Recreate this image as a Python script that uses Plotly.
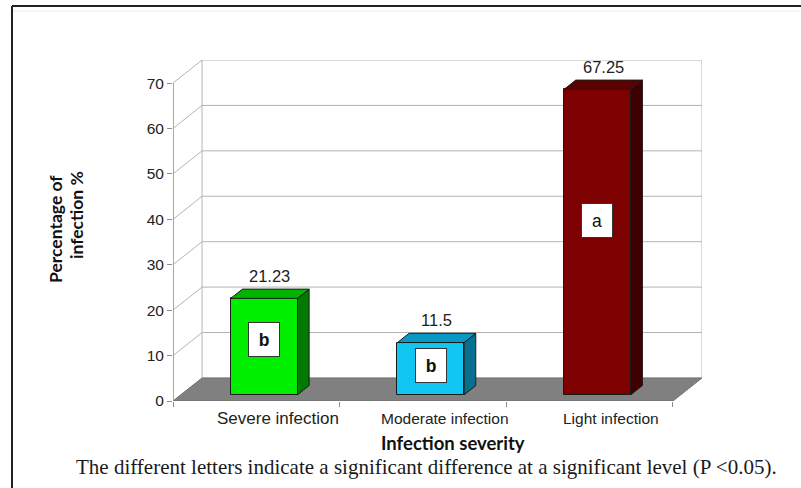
import plotly.graph_objects as go

# ---- data ----
categories = ["Severe infection", "Moderate infection", "Light infection"]
percent_infection = [21.23, 11.5, 67.25]
group_letters = ["b", "b", "a"]
y_ticks = [0, 10, 20, 30, 40, 50, 60, 70]

# ---- styling ----
front_colors = ["#00ee00", "#12c6f2", "#7f0000"]
side_colors = ["#007a00", "#06708e", "#400000"]
top_colors = ["#00b400", "#0a98c4", "#5c0000"]
letter_bold = [True, True, False]
cat_font_sizes = [17, 15.5, 15.5]

W, H = 801, 488
# plot area in pixels (front axis left edge to back wall right edge)
L, R, T, B = 173, 702, 60, 401
CAT_PX = (672 - 173) / 3          # width of one category on the front edge
DEPTH_PX = (29, 23)                # 3-D depth offset of the back wall
Y_PX = (401 - 84) / 70             # pixels per percentage unit

dx = DEPTH_PX[0] / CAT_PX
dy = DEPTH_PX[1] / Y_PX
ymax = y_ticks[-1]
ncat = len(categories)

F0, F1 = 0.27, 0.67                # front/back depth of the bars (fraction of wall depth)
BAR_W = 0.4


def xp(px):
    return (px - L) / (R - L)


def yp(py):
    return (B - py) / (B - T)


def poly(pts):
    return "M " + " L ".join(f"{x},{y}" for x, y in pts) + " Z"


shapes = []
grid_col = "#b4b4b4"

# floor
shapes.append(dict(type="path", xref="x", yref="y", layer="below",
                   path=poly([(0, 0), (ncat, 0), (ncat + dx, dy), (dx, dy)]),
                   fillcolor="#808080", line=dict(color="#6e6e6e", width=1)))

# back wall gridlines and left-wall diagonals
for v in y_ticks:
    if v > 0:
        shapes.append(dict(type="line", xref="x", yref="y", layer="below",
                           x0=dx, y0=v + dy, x1=ncat + dx, y1=v + dy,
                           line=dict(color=grid_col, width=1)))
        shapes.append(dict(type="line", xref="x", yref="y", layer="below",
                           x0=0, y0=v, x1=dx, y1=v + dy,
                           line=dict(color=grid_col, width=1)))
# back wall edges
shapes.append(dict(type="line", xref="x", yref="y", layer="below",
                   x0=dx, y0=dy, x1=dx, y1=ymax + dy, line=dict(color=grid_col, width=1)))
shapes.append(dict(type="line", xref="x", yref="y", layer="below",
                   x0=ncat + dx, y0=dy, x1=ncat + dx, y1=ymax + dy,
                   line=dict(color=grid_col, width=1)))
# front value axis
shapes.append(dict(type="line", xref="x", yref="y", layer="above",
                   x0=0, y0=0, x1=0, y1=ymax, line=dict(color="#8c8c8c", width=1.5)))

# bar side and top faces
centers = [i + 0.5 + dx * F0 for i in range(ncat)]
b0, b1 = dy * F0, dy * F1
ddx = dx * (F1 - F0)
for i, v in enumerate(percent_infection):
    x0 = centers[i] - BAR_W / 2
    x1 = centers[i] + BAR_W / 2
    shapes.append(dict(type="path", xref="x", yref="y", layer="above",
                       path=poly([(x1, b0), (x1 + ddx, b1), (x1 + ddx, b1 + v), (x1, b0 + v)]),
                       fillcolor=side_colors[i], line=dict(color="#1a1a1a", width=1)))
    shapes.append(dict(type="path", xref="x", yref="y", layer="above",
                       path=poly([(x0, b0 + v), (x1, b0 + v), (x1 + ddx, b1 + v), (x0 + ddx, b1 + v)]),
                       fillcolor=top_colors[i], line=dict(color="#1a1a1a", width=1)))

# outer frame
shapes.append(dict(type="line", xref="paper", yref="paper",
                   x0=xp(12), y0=yp(6), x1=xp(W), y1=yp(6), line=dict(color="#222222", width=2)))
shapes.append(dict(type="line", xref="paper", yref="paper",
                   x0=xp(12), y0=yp(6), x1=xp(12), y1=yp(H), line=dict(color="#222222", width=2)))
shapes.append(dict(type="line", xref="paper", yref="paper",
                   x0=xp(13), y0=yp(11), x1=xp(W), y1=yp(11), line=dict(color="#ececec", width=1)))

fig = go.Figure()
fig.add_trace(go.Bar(
    x=centers, y=percent_infection, base=[b0] * ncat, width=BAR_W,
    marker=dict(color=front_colors, line=dict(color="#1a1a1a", width=1)),
    hoverinfo="skip", showlegend=False,
))

annotations = []
label_font = dict(family="Liberation Sans, Arial, sans-serif", color="#222222")
for i, v in enumerate(percent_infection):
    # value above bar
    annotations.append(dict(x=centers[i] + ddx / 2, y=b1 + v, xref="x", yref="y",
                            text=f"{v:g}", showarrow=False, xanchor="center",
                            yanchor="bottom", yshift=2,
                            font=dict(size=16.5, **label_font)))
    # significance letter box
    txt = f"<b>{group_letters[i]}</b>" if letter_bold[i] else group_letters[i]
    annotations.append(dict(x=centers[i], y=b0 + 0.57 * v, xref="x", yref="y",
                            text=txt, showarrow=False, width=30, height=33,
                            xanchor="center", yanchor="middle",
                            bgcolor="white", bordercolor="#333333", borderwidth=1, borderpad=0,
                            font=dict(size=17.5, family="Liberation Sans, Arial, sans-serif",
                                      color="#111111")))
    # category label
    annotations.append(dict(x=i + 0.5 + 0.13, y=yp(418), xref="x", yref="paper",
                            text=categories[i], showarrow=False,
                            xanchor="center", yanchor="middle",
                            font=dict(size=cat_font_sizes[i], **label_font)))

title_font = dict(family="Lato, Carlito, sans-serif", size=17.5, color="#111111")
annotations.append(dict(x=xp(453), y=yp(443), xref="paper", yref="paper",
                        xanchor="center", yanchor="middle",
                        text="<b>Infection severity</b>", showarrow=False,
                        font=dict(title_font, size=18.5)))
annotations.append(dict(x=xp(55), y=yp(229), xref="paper", yref="paper", textangle=-90,
                        xanchor="center", yanchor="middle",
                        text="<b>Percentage of</b>", showarrow=False, font=title_font))
annotations.append(dict(x=xp(76), y=yp(215), xref="paper", yref="paper", textangle=-90,
                        xanchor="center", yanchor="middle",
                        text="<b>infection %</b>", showarrow=False, font=title_font))
annotations.append(dict(x=xp(426.5), y=yp(467), xref="paper", yref="paper",
                        xanchor="center", yanchor="middle",
                        text="The different letters indicate a significant difference at a "
                             "significant level (P &lt;0.05).",
                        showarrow=False,
                        font=dict(family="Liberation Serif, Times New Roman, serif",
                                  size=21, color="#1a1a1a")))

fig.update_layout(
    width=W, height=H,
    margin=dict(l=L, r=W - R, t=T, b=H - B, pad=0),
    paper_bgcolor="white", plot_bgcolor="white",
    shapes=shapes, annotations=annotations,
    bargap=0,
    xaxis=dict(range=[0, ncat + dx], tickvals=list(range(ncat + 1)), showticklabels=False,
               ticks="outside", ticklen=5, tickcolor="#8c8c8c", showgrid=False,
               zeroline=False, showline=False, fixedrange=True),
    yaxis=dict(range=[0, ymax + dy], tickvals=y_ticks, ticks="outside", ticklen=5,
               tickcolor="#8c8c8c", showgrid=False, zeroline=False, showline=False,
               tickfont=dict(size=15.5, family="Liberation Sans, Arial, sans-serif",
                             color="#222222"),
               fixedrange=True),
)

fig.write_html("out.html")
